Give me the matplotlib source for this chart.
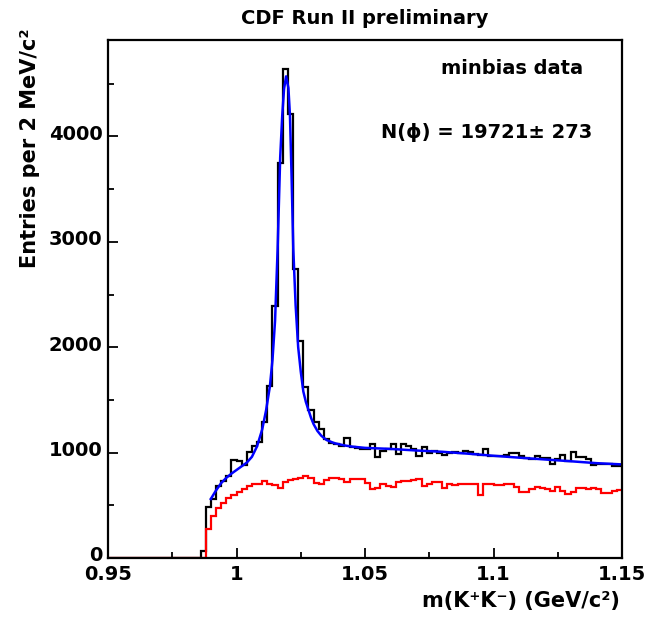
import matplotlib
matplotlib.use('Agg')
import numpy as np
import matplotlib.pyplot as plt
import matplotlib.transforms as mtransforms
from matplotlib.ticker import FixedLocator, MultipleLocator

plt.rcParams['font.family'] = ['DejaVu Sans']
plt.rcParams['font.weight'] = 'bold'

# --- histogram contents (2 MeV bins, 0.95 - 1.15 GeV) ---
mass_lo = 0.95
mass_hi = 1.15
bin_width = 0.002

data_counts = [
    0, 0, 0, 0, 0, 0, 0, 0, 0, 0,
    0, 0, 0, 0, 0, 0, 0, 0, 70, 480,
    560, 680, 730, 780, 930, 920, 880, 1010, 1060, 1100,
    1290, 1630, 2390, 3750, 4640, 4210, 2740, 2060, 1620, 1400,
    1290, 1220, 1130, 1095, 1080, 1065, 1140, 1050, 1045, 1030,
    1030, 1085, 955, 1015, 1030, 1085, 990, 1080, 1060, 1030,
    970, 1050, 1000, 1015, 1000, 975, 1000, 1005, 995, 1015,
    1010, 990, 975, 1035, 965, 965, 970, 975, 1000, 995,
    965, 945, 940, 970, 950, 945, 895, 940, 975, 925,
    1005, 960, 955, 940, 880, 890, 890, 895, 875, 875,
]

bkg_counts = [
    0, 0, 0, 0, 0, 0, 0, 0, 0, 0,
    0, 0, 0, 0, 0, 0, 0, 0, 0, 275,
    400, 470, 520, 570, 600, 625, 650, 680, 705, 700,
    730, 700, 690, 665, 725, 740, 745, 755, 775, 755,
    710, 700, 740, 760, 755, 745, 725, 750, 748, 745,
    715, 655, 660, 700, 680, 678, 720, 730, 735, 738,
    745, 680, 700, 725, 718, 660, 700, 695, 700, 705,
    705, 700, 597, 700, 700, 690, 692, 700, 700, 678,
    628, 630, 655, 678, 668, 655, 638, 678, 640, 606,
    628, 668, 660, 655, 660, 655, 616, 616, 640, 645,
]

# fitted curve
fit_mass = [
    0.9900, 0.9920, 0.9940, 0.9960, 0.9980, 1.0000, 1.0020, 1.0040, 1.0060,
    1.0080, 1.0100, 1.0115, 1.0130, 1.0140, 1.0150, 1.0160, 1.0170, 1.0178,
    1.0185, 1.0193, 1.0202, 1.0208, 1.0214, 1.0221, 1.0230, 1.0240, 1.0250,
    1.0260, 1.0270, 1.0280, 1.0290, 1.0300, 1.0315, 1.0330, 1.0350, 1.0380,
    1.0420, 1.0450, 1.0500, 1.0600, 1.0700, 1.0800, 1.0900, 1.1000, 1.1100,
    1.1200, 1.1300, 1.1400, 1.1500,
]
fit_value = [
    560, 640, 710, 760, 800, 835, 870, 905, 960,
    1060, 1220, 1400, 1630, 1880, 2250, 2930, 3800, 4200,
    4450, 4570, 4460, 4200, 3650, 2930, 2400, 2000, 1770,
    1580, 1480, 1405, 1330, 1270, 1205, 1160, 1120, 1090,
    1068, 1057, 1045, 1035, 1020, 1008, 990, 970, 952,
    935, 918, 900, 888,
]

edges = np.round(mass_lo + bin_width * np.arange(len(data_counts) + 1), 4)

W, H = 647, 617
fig = plt.figure(figsize=(W / 100, H / 100), dpi=100)
ax = fig.add_axes([108 / W, 59 / H, 514 / W, 518 / H])

ax.stairs(data_counts, edges, baseline=None, color='black', lw=1.6)
ax.stairs(bkg_counts, edges, baseline=None, color='red', lw=1.6)
ax.plot(fit_mass, fit_value, color='blue', lw=1.8)

ax.set_xlim(mass_lo, mass_hi)
ax.set_ylim(0, 4915)

ax.xaxis.set_major_locator(FixedLocator([0.95, 1.0, 1.05, 1.1, 1.15]))
ax.set_xticklabels(['0.95', '1', '1.05', '1.1', '1.15'])
ax.xaxis.set_minor_locator(MultipleLocator(0.025))
ax.yaxis.set_major_locator(MultipleLocator(1000))
ax.yaxis.set_minor_locator(MultipleLocator(500))
ax.tick_params(which='both', direction='in', top=False, right=False, width=1.3,
               labelsize=14)
ax.tick_params(which='major', length=7)
ax.tick_params(axis='x', which='major', pad=5)
ax.tick_params(axis='y', which='major', pad=4)
ax.tick_params(which='minor', length=4)
for sp in ax.spines.values():
    sp.set_linewidth(1.6)

# ROOT puts the y labels a touch above the tick
shift_up = mtransforms.ScaledTranslation(0, 3 / 72, fig.dpi_scale_trans)
for lab in ax.get_yticklabels():
    lab.set_transform(lab.get_transform() + shift_up)

fig.text(365 / W, 1 - 18 / H, 'CDF Run II preliminary', ha='center', va='center',
         fontsize=14)
fig.text(583 / W, 1 - 68 / H, 'minbias data', ha='right', va='center', fontsize=14)
fig.text(592 / W, 1 - 132 / H, 'N(ϕ) = 19721± 273', ha='right', va='center',
         fontsize=14)
fig.text(30 / W, 1 - 28 / H, 'Entries per 2 MeV/c²', rotation=90, ha='center',
         va='top', fontsize=15)
fig.text(620 / W, 1 - 601 / H, 'm(K⁺K⁻) (GeV/c²)', ha='right', va='center',
         fontsize=15)

fig.savefig('out.png', dpi=100)
